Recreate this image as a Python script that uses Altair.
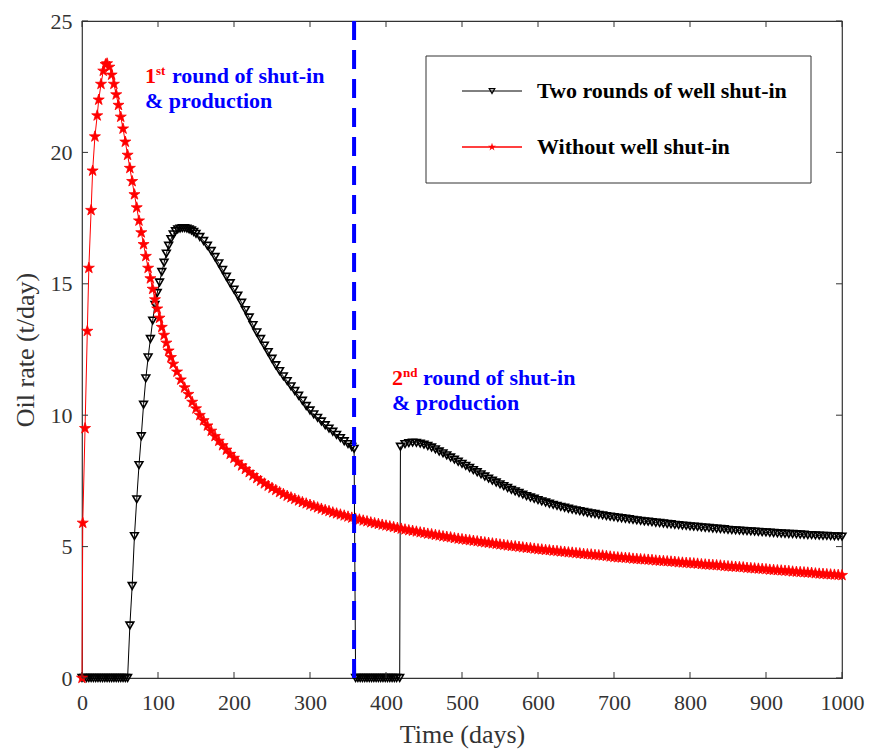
import altair as alt
import pandas as pd

# ---------------- data ----------------
# Without well shut-in (red stars)
red_t_early = [0, 1, 4, 7, 9, 12, 14, 17, 20, 22,
               25, 28, 31, 33, 36, 39, 42, 45, 48, 51,
               54, 57, 60, 63, 66, 69, 72, 75, 78, 81,
               84, 87, 90, 93, 96, 99, 102, 105, 108, 111,
               114, 117, 120]
red_v_early = [0, 5.9, 9.5, 13.2, 15.6, 17.8, 19.3, 20.6, 21.4, 22.0,
               22.6, 23.1, 23.35, 23.38, 23.25, 22.95, 22.6, 22.2, 21.8, 21.35,
               20.9, 20.4, 19.9, 19.4, 18.9, 18.4, 17.9, 17.4, 16.95, 16.5,
               16.05, 15.6, 15.2, 14.8, 14.4, 14.05, 13.7, 13.35, 13.05, 12.75,
               12.45, 12.2, 11.95]
red_t_tail = list(range(125, 1001, 5))
red_v_tail = [11.65, 11.35, 11.05, 10.8, 10.5, 10.25, 10.0, 9.8, 9.6, 9.4,
              9.2, 9.02, 8.85, 8.68, 8.52, 8.37, 8.22, 8.08, 7.95, 7.83,
              7.71, 7.6, 7.5, 7.4, 7.31, 7.23, 7.15, 7.07, 7.0, 6.93,
              6.87, 6.81, 6.75, 6.69, 6.64, 6.59, 6.54, 6.49, 6.44, 6.39,
              6.35, 6.3, 6.26, 6.22, 6.18, 6.14, 6.1, 6.06, 6.03, 5.99,
              5.96, 5.92, 5.89, 5.86, 5.83, 5.8, 5.77, 5.74, 5.71, 5.68,
              5.65, 5.62, 5.6, 5.57, 5.54, 5.52, 5.49, 5.47, 5.44, 5.42,
              5.39, 5.37, 5.35, 5.32, 5.3, 5.28, 5.26, 5.24, 5.22, 5.2,
              5.18, 5.16, 5.14, 5.12, 5.1, 5.08, 5.06, 5.04, 5.02, 5.01,
              4.99, 4.97, 4.95, 4.94, 4.92, 4.9, 4.89, 4.87, 4.86, 4.84,
              4.83, 4.81, 4.8, 4.78, 4.77, 4.75, 4.74, 4.72, 4.71, 4.7,
              4.68, 4.67, 4.66, 4.64, 4.62, 4.6, 4.59, 4.58, 4.57, 4.56,
              4.54, 4.53, 4.52, 4.51, 4.5, 4.49, 4.47, 4.46, 4.45, 4.44,
              4.43, 4.42, 4.4, 4.39, 4.38, 4.37, 4.36, 4.35, 4.33, 4.32,
              4.31, 4.3, 4.29, 4.28, 4.26, 4.25, 4.24, 4.23, 4.22, 4.21,
              4.19, 4.18, 4.17, 4.16, 4.15, 4.14, 4.12, 4.11, 4.1, 4.09,
              4.08, 4.07, 4.05, 4.04, 4.03, 4.02, 4.01, 4.0, 3.98, 3.97,
              3.96, 3.95, 3.94, 3.93, 3.92, 3.91]

# Two rounds of well shut-in (black open triangles)
black_t_shut1 = list(range(0, 61, 3))
black_v_shut1 = [0] * len(black_t_shut1)
black_t_prod1 = list(range(63, 151, 3)) + list(range(155, 356, 5)) + [358]
black_v_prod1 = [2.0, 3.5, 5.4, 6.8, 8.1, 9.2, 10.4, 11.4, 12.2, 12.9,
                 13.6, 14.2, 14.65, 15.05, 15.45, 15.8, 16.15, 16.45, 16.7, 16.88,
                 17.0, 17.07, 17.1, 17.12, 17.12, 17.1, 17.07, 17.03, 16.97, 16.9,
                 16.78, 16.63, 16.45, 16.25, 16.02, 15.78, 15.53, 15.27, 15.02, 14.78,
                 14.55, 14.28, 14.0, 13.72, 13.43, 13.15, 12.9, 12.65, 12.4, 12.15,
                 11.9, 11.68, 11.48, 11.3, 11.1, 10.92, 10.74, 10.55, 10.35, 10.18,
                 10.03, 9.9, 9.76, 9.62, 9.49, 9.37, 9.25, 9.13, 9.01, 8.9,
                 8.79, 8.72]
black_t_shut2 = [360, 363, 366, 369, 372, 375, 378, 381, 384, 387,
                 390, 393, 396, 399, 402, 405, 408, 411, 414, 418]
black_v_shut2 = [0] * len(black_t_shut2)
black_t_prod2 = [419] + list(range(425, 1001, 5))
black_v_prod2 = [8.8,
                 8.9, 8.94, 8.96, 8.95, 8.92, 8.88, 8.83, 8.77, 8.7, 8.62,
                 8.55, 8.47, 8.39, 8.31, 8.23, 8.15, 8.07, 7.99, 7.91, 7.83,
                 7.75, 7.67, 7.59, 7.51, 7.44, 7.37, 7.3, 7.23, 7.16, 7.1,
                 7.04, 6.98, 6.92, 6.87, 6.82, 6.77, 6.72, 6.68, 6.63, 6.59,
                 6.55, 6.51, 6.48, 6.44, 6.41, 6.38, 6.35, 6.32, 6.29, 6.26,
                 6.24, 6.21, 6.19, 6.16, 6.14, 6.12, 6.1, 6.08, 6.06, 6.04,
                 6.02, 6.0, 5.98, 5.96, 5.95, 5.93, 5.91, 5.9, 5.88, 5.86,
                 5.85, 5.83, 5.82, 5.8, 5.79, 5.77, 5.76, 5.75, 5.73, 5.72,
                 5.71, 5.69, 5.68, 5.67, 5.66, 5.64, 5.63, 5.62, 5.61, 5.6,
                 5.59, 5.58, 5.57, 5.56, 5.55, 5.54, 5.53, 5.52, 5.51, 5.5,
                 5.49, 5.48, 5.48, 5.47, 5.46, 5.45, 5.44, 5.44, 5.43, 5.42,
                 5.41, 5.41, 5.4, 5.39, 5.39, 5.38]

shut_in_day = [358]
x_ticks = [0, 100, 200, 300, 400, 500, 600, 700, 800, 900, 1000]
y_ticks = [0, 5, 10, 15, 20, 25]
series_names = ["Two rounds of well shut-in", "Without well shut-in"]

# ---------------- tables ----------------
red_df = pd.DataFrame({"t": red_t_early + red_t_tail, "v": red_v_early + red_v_tail})
black_df = pd.DataFrame({
    "t": black_t_shut1 + black_t_prod1 + black_t_shut2 + black_t_prod2,
    "v": black_v_shut1 + black_v_prod1 + black_v_shut2 + black_v_prod2,
})
rule_df = pd.DataFrame({"t": shut_in_day})
xt_df = pd.DataFrame({"t": x_ticks})
yt_df = pd.DataFrame({"v": y_ticks})
one = pd.DataFrame({"a": [0]})

W, H = 760, 657
SERIF = "Liberation Serif"
GREY = "#333333"
TK = 6  # inward tick length
STAR = ("M0,-1L0.225,-0.309L0.951,-0.309L0.363,0.118L0.588,0.809L0,0.382"
        "L-0.588,0.809L-0.363,0.118L-0.951,-0.309L-0.225,-0.309Z")
TRI_SIZE = 60
STAR_SIZE = 135

xs = alt.Scale(domain=[0, 1000], nice=False, zero=False)
ys = alt.Scale(domain=[0, 25], nice=False)

x_axis = alt.Axis(values=x_ticks, format="d", title="Time (days)", ticks=False,
                  domain=False, grid=False, labelColor=GREY, labelFont=SERIF,
                  labelFontSize=22, labelPadding=14, labelFlush=False,
                  titleFont=SERIF, titleFontSize=26, titleFontWeight="normal",
                  titleColor=GREY, titlePadding=8)
y_axis = alt.Axis(values=y_ticks, format="d", title="Oil rate (t/day)", ticks=False,
                  domain=False, grid=False, labelColor=GREY, labelFont=SERIF,
                  labelFontSize=22, labelPadding=10, labelFlush=False,
                  titleFont=SERIF, titleFontSize=26, titleFontWeight="normal",
                  titleColor=GREY, titlePadding=12)

black_line = alt.Chart(black_df).mark_line(color="black", strokeWidth=1).encode(
    x=alt.X("t:Q", scale=xs, axis=x_axis),
    y=alt.Y("v:Q", scale=ys, axis=y_axis),
    order="t:Q",
)
black_pts = alt.Chart(black_df).mark_point(
    shape="triangle-down", filled=False, color="black", size=TRI_SIZE,
    strokeWidth=1.6, opacity=1
).encode(x=alt.X("t:Q", scale=xs), y=alt.Y("v:Q", scale=ys))

red_line = alt.Chart(red_df).mark_line(color="#ff0000", strokeWidth=1).encode(
    x=alt.X("t:Q", scale=xs),
    y=alt.Y("v:Q", scale=ys),
    order="t:Q",
)
red_pts = alt.Chart(red_df).mark_point(
    shape=STAR, filled=True, color="#ff0000", size=STAR_SIZE, opacity=1,
    stroke="#ff0000", strokeWidth=0.8
).encode(x=alt.X("t:Q", scale=xs), y=alt.Y("v:Q", scale=ys))

blue_rule = alt.Chart(rule_df).mark_rule(
    color="#0000ff", strokeWidth=4, strokeDash=[19, 10]
).encode(x=alt.X("t:Q", scale=xs))

# inward ticks on all four sides of the box (MATLAB style)
tick_bottom = alt.Chart(xt_df).mark_rule(color=GREY, strokeWidth=1).encode(
    x=alt.X("t:Q", scale=xs), y=alt.value(H), y2=alt.value(H - TK))
tick_top = alt.Chart(xt_df).mark_rule(color=GREY, strokeWidth=1).encode(
    x=alt.X("t:Q", scale=xs), y=alt.value(0), y2=alt.value(TK))
tick_left = alt.Chart(yt_df).mark_rule(color=GREY, strokeWidth=1).encode(
    y=alt.Y("v:Q", scale=ys), x=alt.value(0), x2=alt.value(TK))
tick_right = alt.Chart(yt_df).mark_rule(color=GREY, strokeWidth=1).encode(
    y=alt.Y("v:Q", scale=ys), x=alt.value(W), x2=alt.value(W - TK))

# ---------------- legend (boxed, MATLAB style) ----------------
leg_box = alt.Chart(one).mark_rect(fill="white", stroke=GREY, strokeWidth=1).encode(
    x=alt.value(344), x2=alt.value(729), y=alt.value(35), y2=alt.value(162))
leg_line1 = alt.Chart(one).mark_rule(color="black", strokeWidth=1).encode(
    x=alt.value(380), x2=alt.value(440), y=alt.value(70))
leg_pt1 = alt.Chart(one).mark_point(shape="triangle-down", filled=False, color="black",
                                     size=32, strokeWidth=1.2, opacity=1).encode(
    x=alt.value(410), y=alt.value(70))
leg_line2 = alt.Chart(one).mark_rule(color="#ff0000", strokeWidth=1.5).encode(
    x=alt.value(380), x2=alt.value(440), y=alt.value(126))
leg_pt2 = alt.Chart(one).mark_point(shape=STAR, filled=True, color="#ff0000",
                                     size=70, opacity=1).encode(
    x=alt.value(410), y=alt.value(126))
leg_txt1 = alt.Chart(one).mark_text(text=series_names[0], font=SERIF, fontSize=22,
                                     fontWeight="bold", color="black", align="left",
                                     baseline="middle").encode(
    x=alt.value(455), y=alt.value(70))
leg_txt2 = alt.Chart(one).mark_text(text=series_names[1], font=SERIF, fontSize=22,
                                     fontWeight="bold", color="black", align="left",
                                     baseline="middle").encode(
    x=alt.value(455), y=alt.value(126))


def txt(s, x, y, color, size=22):
    return alt.Chart(one).mark_text(text=s, font=SERIF, fontSize=size, fontWeight="bold",
                                    color=color, align="left", baseline="alphabetic").encode(
        x=alt.value(x), y=alt.value(y))


annots = [
    txt("1", 63, 62, "#ff0000"),
    txt("st", 74, 54, "#ff0000", 13),
    txt("round of shut-in", 90, 62, "#0000ff"),
    txt("& production", 63, 87, "#0000ff"),
    txt("2", 310, 364, "#ff0000"),
    txt("nd", 321, 356, "#ff0000", 13),
    txt("round of shut-in", 341, 364, "#0000ff"),
    txt("& production", 310, 389, "#0000ff"),
]

chart = alt.layer(
    black_line, black_pts, red_line, red_pts, blue_rule,
    tick_bottom, tick_top, tick_left, tick_right,
    leg_box, leg_line1, leg_pt1, leg_line2, leg_pt2, leg_txt1, leg_txt2,
    *annots,
).properties(
    width=W, height=H,
    autosize=alt.AutoSizeParams(type="none"),
    padding={"left": 82, "top": 21, "right": 30, "bottom": 76},
    background="white",
).configure_view(stroke=GREY, strokeWidth=1.2)

chart.save("out.html", embed_options={"renderer": "svg", "actions": False})
